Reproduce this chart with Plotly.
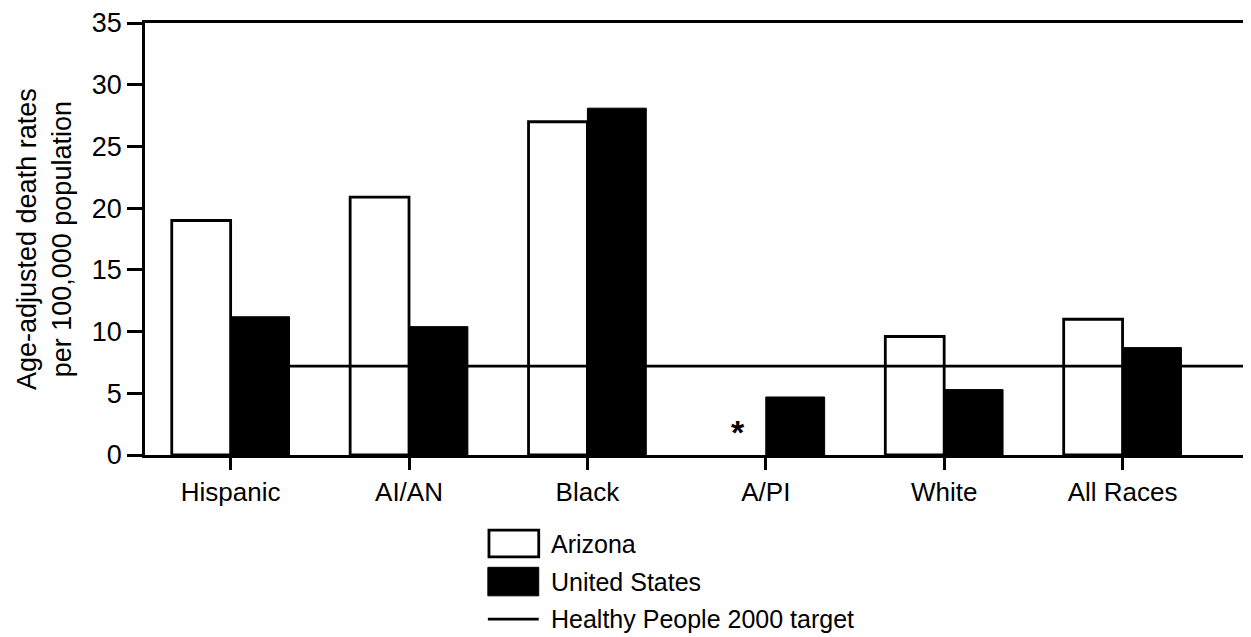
import plotly.graph_objects as go

categories = ["Hispanic", "AI/AN", "Black", "A/PI", "White", "All Races"]
arizona = [19.0, 20.9, 27.0, None, 9.6, 11.0]
united_states = [11.2, 10.4, 28.1, 4.7, 5.3, 8.7]
target = 7.2
missing_marker = "*"
y_title = "Age-adjusted death rates<br>per 100,000 population"

FONT = "Liberation Sans, Arial, Helvetica, sans-serif"

fig = go.Figure()
fig.add_trace(go.Bar(
    name="Arizona", x=categories, y=arizona,
    marker=dict(color="rgba(255,255,255,0)", line=dict(color="black", width=2.8)),
    showlegend=False,
))
fig.add_trace(go.Bar(
    name="United States", x=categories, y=united_states,
    marker=dict(color="black", line=dict(color="black", width=1)),
    showlegend=False,
))

x_upper = len(categories) - 1 + 0.72
# Healthy People 2000 target line (drawn below bars)
fig.add_shape(type="line", xref="x", yref="y", x0=0, x1=x_upper,
              y0=target, y1=target, line=dict(color="black", width=2.8),
              layer="below")

# asterisk for missing A/PI Arizona value
fig.add_annotation(x=categories[3], y=0, xref="x", yref="y",
                   text="<b>" + missing_marker + "</b>",
                   showarrow=False, xshift=-28, yanchor="bottom", yshift=2,
                   font=dict(family=FONT, size=34, color="black"))

# y-axis title
fig.add_annotation(x=-0.0913, y=0.5, xref="paper", yref="paper", text=y_title,
                   showarrow=False, textangle=-90, xanchor="center", yanchor="middle",
                   font=dict(family=FONT, size=27, color="black"))

# Custom legend
legend_items = [("Arizona", "box_open", -0.205), ("United States", "box_fill", -0.293),
                ("Healthy People 2000 target", "line", -0.380)]
for label, kind, yc in legend_items:
    if kind == "box_open":
        fig.add_shape(type="rect", xref="paper", yref="paper", x0=0.311, x1=0.356,
                      y0=yc - 0.031, y1=yc + 0.031, line=dict(color="black", width=2.8),
                      fillcolor="white")
    elif kind == "box_fill":
        fig.add_shape(type="rect", xref="paper", yref="paper", x0=0.310, x1=0.356,
                      y0=yc - 0.033, y1=yc + 0.033, line=dict(color="black", width=1),
                      fillcolor="black")
    else:
        fig.add_shape(type="line", xref="paper", yref="paper", x0=0.310, x1=0.356,
                      y0=yc, y1=yc, line=dict(color="black", width=2.8))
    fig.add_annotation(x=0.365, y=yc, xref="paper", yref="paper", text=label,
                       showarrow=False, xanchor="left", yanchor="middle",
                       font=dict(family=FONT, size=25, color="black"))

fig.update_layout(
    width=1243, height=629,
    margin=dict(l=137, r=0, t=12, b=182),
    paper_bgcolor="white", plot_bgcolor="white",
    barmode="group", bargap=0.34, bargroupgap=0,
    font=dict(family=FONT, size=26, color="black"),
    showlegend=False,
)
fig.update_xaxes(
    type="category", range=[-0.48, x_upper],
    showline=True, linecolor="black", linewidth=2.8, mirror=True,
    ticks="outside", ticklen=12, tickwidth=2.8, tickcolor="black",
    showgrid=False, zeroline=False,
    tickfont=dict(family=FONT, size=26, color="black"),
)
fig.update_yaxes(
    range=[0, 35], dtick=5, tick0=0,
    showline=True, linecolor="black", linewidth=2.8, mirror=False,
    ticks="outside", ticklen=15, tickwidth=2.5, tickcolor="black",
    showgrid=False, zeroline=False, ticklabeloverflow="allow",
    tickfont=dict(family=FONT, size=27, color="black"),
)

fig.write_html("out.html")
